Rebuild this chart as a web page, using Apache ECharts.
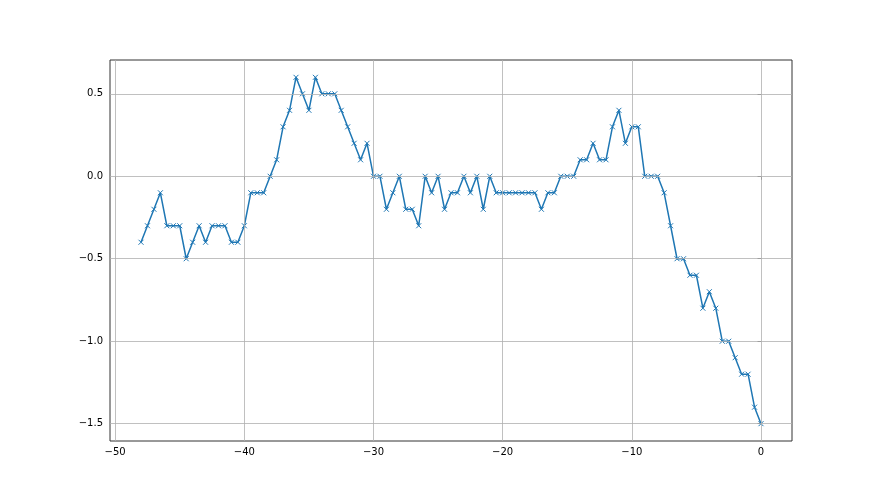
<!DOCTYPE html>
<html>
<head>
<meta charset="utf-8">
<script src="https://cdn.jsdelivr.net/npm/echarts@6/dist/echarts.min.js"></script>
<style>
  html, body { margin: 0; padding: 0; background: #fff; }
  #chart { width: 880px; height: 495px; }
</style>
</head>
<body>
<div id="chart"></div>
<script>
const xValues = [
    -48, -47.5, -47, -46.5, -46, -45.5, -45, -44.5, -44, -43.5, -43, -42.5, -42, -41.5, -41, -40.5,
    -40, -39.5, -39, -38.5, -38, -37.5, -37, -36.5, -36, -35.5, -35, -34.5, -34, -33.5, -33, -32.5,
    -32, -31.5, -31, -30.5, -30, -29.5, -29, -28.5, -28, -27.5, -27, -26.5, -26, -25.5, -25, -24.5,
    -24, -23.5, -23, -22.5, -22, -21.5, -21, -20.5, -20, -19.5, -19, -18.5, -18, -17.5, -17, -16.5,
    -16, -15.5, -15, -14.5, -14, -13.5, -13, -12.5, -12, -11.5, -11, -10.5, -10, -9.5, -9, -8.5,
    -8, -7.5, -7, -6.5, -6, -5.5, -5, -4.5, -4, -3.5, -3, -2.5, -2, -1.5, -1, -0.5, 0,
];

const yValues = [
    -0.4, -0.3, -0.2, -0.1, -0.3, -0.3, -0.3, -0.5, -0.4, -0.3, -0.4, -0.3, -0.3, -0.3, -0.4, -0.4,
    -0.3, -0.1, -0.1, -0.1, 0, 0.1, 0.3, 0.4, 0.6, 0.5, 0.4, 0.6, 0.5, 0.5, 0.5, 0.4,
    0.3, 0.2, 0.1, 0.2, 0, 0, -0.2, -0.1, 0, -0.2, -0.2, -0.3, 0, -0.1, 0, -0.2,
    -0.1, -0.1, 0, -0.1, 0, -0.2, 0, -0.1, -0.1, -0.1, -0.1, -0.1, -0.1, -0.1, -0.2, -0.1,
    -0.1, 0, 0, 0, 0.1, 0.1, 0.2, 0.1, 0.1, 0.3, 0.4, 0.2, 0.3, 0.3, 0, 0,
    0, -0.1, -0.3, -0.5, -0.5, -0.6, -0.6, -0.8, -0.7, -0.8, -1.0, -1.0, -1.1, -1.2, -1.2, -1.4, -1.5,
];

const xTicks = [-50, -40, -30, -20, -10, 0];
const yTicks = [-1.5, -1.0, -0.5, 0.0, 0.5];

const points = xValues.map((x, i) => [x, yValues[i]]);
const minus = (s) => String(s).replace("-", "\u2212");

const chart = echarts.init(document.getElementById("chart"), null, { renderer: "canvas" });

const gridLine = { color: "#b0b0b0", width: 0.8, type: "solid" };
const tickLabel = { color: "#000", fontSize: 10, fontFamily: "DejaVu Sans" };

chart.setOption({
    animation: false,
    grid: {
        left: 110,
        right: 88,
        top: 60,
        bottom: 54,
        show: true,
        borderColor: "#333",
        borderWidth: 1,
        backgroundColor: "transparent",
    },
    xAxis: {
        type: "value",
        min: -50.4,
        max: 2.4,
        splitLine: { show: false },
        axisLine: { show: false },
        axisTick: {
            show: true,
            customValues: xTicks,
            length: 3.5,
            lineStyle: { color: "#333", width: 0.8 },
        },
        axisLabel: {
            customValues: xTicks,
            margin: 6,
            formatter: (v) => minus(v),
            ...tickLabel,
        },
    },
    yAxis: {
        type: "value",
        min: -1.605,
        max: 0.705,
        splitLine: { show: false },
        axisLine: { show: false },
        axisTick: {
            show: true,
            customValues: yTicks,
            length: 3.5,
            lineStyle: { color: "#333", width: 0.8 },
        },
        axisLabel: {
            customValues: yTicks,
            margin: 7,
            formatter: (v) => minus(v.toFixed(1)),
            ...tickLabel,
        },
    },
    series: [
        {
            // grid lines, drawn under the data line
            type: "line",
            z: 1,
            data: points,
            symbol: "none",
            lineStyle: { opacity: 0 },
            silent: true,
            markLine: {
                silent: true,
                symbol: "none",
                label: { show: false },
                lineStyle: gridLine,
                emphasis: { disabled: true },
                data: [
                    ...xTicks.map((v) => ({ xAxis: v })),
                    ...yTicks.map((v) => ({ yAxis: v })),
                ],
            },
        },
        {
            type: "line",
            z: 3,
            data: points,
            symbol: "path://M0,0L10,10M10,0L0,10",
            symbolSize: 5,
            showAllSymbol: true,
            lineStyle: { color: "#1f77b4", width: 1.5 },
            itemStyle: { color: "#1f77b4", borderColor: "#1f77b4", borderWidth: 1 },
        },
    ],
});
</script>
</body>
</html>
